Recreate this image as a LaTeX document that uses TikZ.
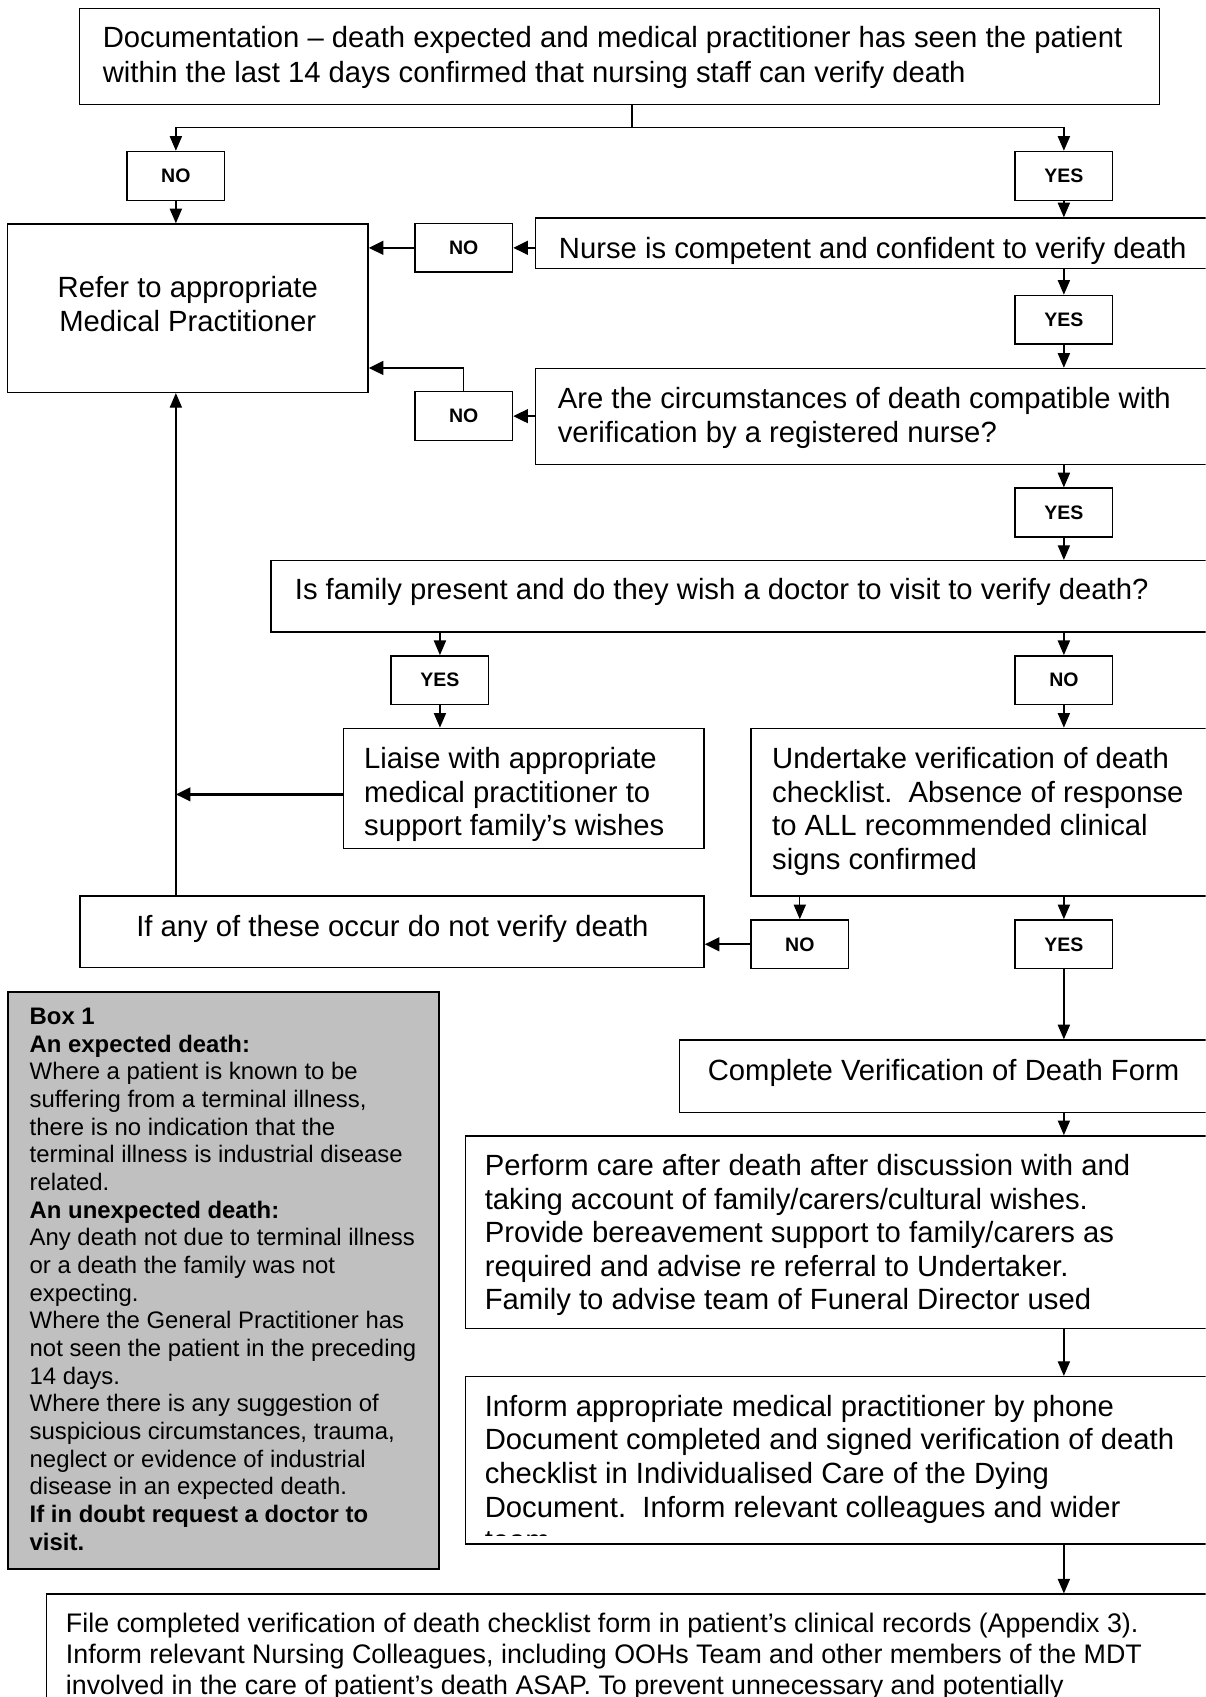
\documentclass[tikz,border=0pt]{standalone}
\usepackage{fontspec}
\setmainfont{Liberation Sans}
\usetikzlibrary{arrows.meta,fit,positioning}

\definecolor{boxgrey}{RGB}{192,192,192}

\tikzset{
  box/.style={draw, line width=0.6pt, inner sep=0pt},
  greybox/.style={box, line width=0.85pt, fill=boxgrey},
  tag/.style={draw, line width=0.6pt, inner sep=0pt, minimum width=40pt, minimum height=20pt,
    font=\fontsize{8}{9.6}\selectfont\bfseries},
  txt/.style={inner sep=0pt, anchor=north west, align=left, font=\fontsize{12}{13.8}\selectfont},
  smalltxt/.style={txt, font=\fontsize{9.8}{11.35}\selectfont},
  midtxt/.style={txt, font=\fontsize{11}{12.65}\selectfont},
  arr/.style={-{Triangle[length=6pt,width=5pt]}, line width=0.55pt},
  heavyarr/.style={-{Triangle[length=6pt,width=5.6pt]}, line width=0.95pt},
}

\begin{document}
\begin{tikzpicture}[x=0.444pt,y=-0.444pt]
    % Page frame
    \useasboundingbox (0,0) rectangle (1114,1568);
    \clip (0,0) rectangle (1114,1568);

    % Draw the boxes
    \node[box, fit={(73.5,8) (1071.5,96.5)}] (doc) {};
    \node[box, fit={(7,207) (340,362.5)}] (refer) {};
    \node[box, fit={(495,201.5) (1120,248)}] (nurse) {};
    \node[box, fit={(495,340.5) (1120,429)}] (circ) {};
    \node[box, fit={(250.5,518) (1120,584)}] (family) {};
    \node[box, fit={(317.5,673) (650.5,784)}] (liaise) {};
    \node[box, fit={(694,673) (1120,828)}] (undertake) {};
    \node[box, fit={(74,828) (650.5,894)}] (ifany) {};
    \node[greybox, fit={(7,917) (406,1450)}] (box1) {};
    \node[box, fit={(628,961) (1120,1028)}] (complete) {};
    \node[box, fit={(430,1049.5) (1120,1227.5)}] (perform) {};
    \node[box, fit={(430,1272) (1120,1426.5)}] (inform) {};
    \node[box, fit={(43,1473) (1120,1600)}] (file) {};

    % Label the boxes
    \node[txt, font=\fontsize{12}{14.2}\selectfont] (doc-text) at (94.5,24) {Documentation – death expected and medical practitioner has seen the patient\\within the last 14 days confirmed that nursing staff can verify death};
    \node[txt, anchor=center, align=center] (refer-text) at (173.5,281) {Refer to appropriate\\Medical Practitioner};
    \node[txt] (nurse-text) at (516,219) {Nurse is competent and confident to verify death};
    \node[txt] (circ-text) at (515,357.5) {Are the circumstances of death compatible with\\verification by a registered nurse?};
    \node[txt] (family-text) at (272,534) {Is family present and do they wish a doctor to visit to verify death?};
    \node[txt] (liaise-text) at (336,690) {Liaise with appropriate\\medical practitioner to\\support family’s wishes};
    \node[txt] (undertake-text) at (713,690) {Undertake verification of death\\checklist.\ \ Absence of response\\to ALL recommended clinical\\signs confirmed};
    \node[txt] (ifany-text) at (125.5,845) {If any of these occur do not verify death};
    \node[smalltxt] (box1-text) at (27,931) {\textbf{Box 1}\\
      \textbf{An expected death:}\\
      Where a patient is known to be\\
      suffering from a terminal illness,\\
      there is no indication that the\\
      terminal illness is industrial disease\\
      related.\\
      \textbf{An unexpected death:}\\
      Any death not due to terminal illness\\
      or a death the family was not\\
      expecting.\\
      Where the General Practitioner has\\
      not seen the patient in the preceding\\
      14 days.\\
      Where there is any suggestion of\\
      suspicious circumstances, trauma,\\
      neglect or evidence of industrial\\
      disease in an expected death.\\
      \textbf{If in doubt request a doctor to}\\
      \textbf{visit.}};
    \node[txt] (complete-text) at (653.5,978) {Complete Verification of Death Form};
    \node[txt] (perform-text) at (447.5,1066) {Perform care after death after discussion with and\\taking account of family/carers/cultural wishes.\\Provide bereavement support to family/carers as\\required and advise re referral to Undertaker.\\Family to advise team of Funeral Director used};
    \begin{scope}
      \clip (430,1272) rectangle (1114,1419);
      \node[txt] (inform-text) at (447.5,1288.5) {Inform appropriate medical practitioner by phone\\Document completed and signed verification of death\\checklist in Individualised Care of the Dying\\Document.\ \ Inform relevant colleagues and wider\\team};
    \end{scope}
    \node[midtxt] (file-text) at (60.5,1490) {File completed verification of death checklist form in patient’s clinical records (Appendix 3).\\Inform relevant Nursing Colleagues, including OOHs Team and other members of the MDT\\involved in the care of patient’s death ASAP. To prevent unnecessary and potentially};

    % Yes and no tags
    \node[tag] (no1) at (162.5,162.5) {NO};
    \node[tag] (yes1) at (983,162.5) {YES};
    \node[tag] (no2) at (428.5,229) {NO};
    \node[tag] (yes2) at (983,295.5) {YES};
    \node[tag] (no3) at (428.5,384.5) {NO};
    \node[tag] (yes3) at (983,473.5) {YES};
    \node[tag] (yes4) at (406.5,628.5) {YES};
    \node[tag] (no4) at (983,628.5) {NO};
    \node[tag] (no5) at (739,872.5) {NO};
    \node[tag] (yes5) at (983,872.5) {YES};

    % Draw the connectors
    \coordinate (split) at (584,118);
    \coordinate (back) at (428.5,340);
    \coordinate (liaise-out) at (317.5,734);
    \draw[line width=0.55pt] (doc.south -| split) -- (split);
    \draw[arr] (split) -| (no1);
    \draw[arr] (split) -| (yes1);
    \draw[arr] (no1) -- (no1 |- refer.north);
    \draw[arr] (yes1) -- (yes1 |- nurse.north);
    \draw[heavyarr] (nurse.west |- no2) -- (no2);
    \draw[heavyarr] (no2) -- (no2 -| refer.east);
    \draw[arr] (yes1 |- nurse.south) -- (yes2);
    \draw[arr] (yes2) -- (yes2 |- circ.north);
    \draw[heavyarr] (circ.west |- no3) -- (no3);
    \draw[line width=0.55pt] (no3) -- (back);
    \draw[heavyarr] (back) -- (back -| refer.east);
    \draw[arr] (yes2 |- circ.south) -- (yes3);
    \draw[arr] (yes3) -- (yes3 |- family.north);
    \draw[arr] (family.south -| yes4) -- (yes4);
    \draw[arr] (yes4) -- (yes4 |- liaise.north);
    \draw[arr] (family.south -| no4) -- (no4);
    \draw[arr] (no4) -- (no4 |- undertake.north);
    \draw[heavyarr] (liaise-out) -- (liaise-out -| no1);
    \draw[arr] (ifany.north -| no1) -- (no1 |- refer.south);
    \draw[arr] (undertake.south -| no5) -- (no5);
    \draw[arr] (undertake.south -| yes5) -- (yes5);
    \draw[heavyarr] (no5) -- (no5 -| ifany.east);
    \draw[arr] (yes5) -- (yes5 |- complete.north);
    \draw[arr] (complete.south -| yes5) -- (yes5 |- perform.north);
    \draw[arr] (perform.south -| yes5) -- (yes5 |- inform.north);
    \draw[arr] (inform.south -| yes5) -- (yes5 |- file.north);
\end{tikzpicture}
\end{document}
